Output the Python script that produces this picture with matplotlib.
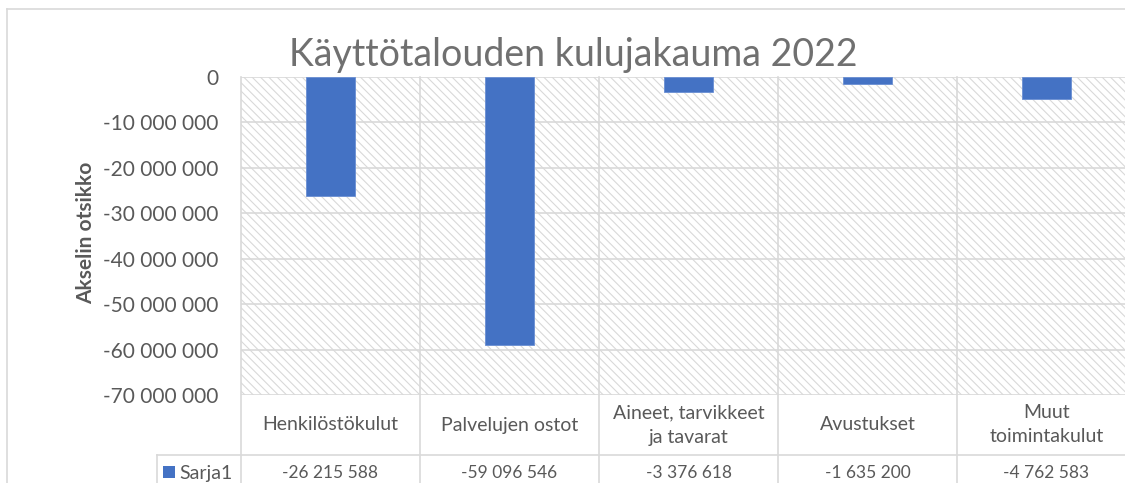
import matplotlib.pyplot as plt
import matplotlib.transforms as mtransforms
from matplotlib.lines import Line2D
from matplotlib.patches import Rectangle

# Chart data
categories = ['Henkilöstökulut', 'Palvelujen ostot', 'Aineet, tarvikkeet\nja tavarat',
              'Avustukset', 'Muut\ntoimintakulut']
values = [-26215588, -59096546, -3376618, -1635200, -4762583]
series_name = 'Sarja1'
yticks = [0, -10000000, -20000000, -30000000, -40000000, -50000000, -60000000, -70000000]

W, H = 1125, 483
BLUE = '#4472C4'
GRID = '#d9d9d9'
TXT = '#595959'

plt.rcParams['font.family'] = ['Lato', 'DejaVu Sans']
plt.rcParams['hatch.color'] = GRID
plt.rcParams['hatch.linewidth'] = 0.8


def fmt(v):
    return f'{v:,.0f}'.replace(',', ' ')


fig = plt.figure(figsize=(W / 100, H / 100), dpi=100)

# plot area in pixels: x 241..1136, y 77..395
ax = fig.add_axes([241 / W, (H - 395) / H, 895 / W, 318 / H])
ax.patch.set_hatch('\\' * 4)
ax.patch.set_edgecolor(GRID)
ax.patch.set_linewidth(0)

x = list(range(len(categories)))
ax.bar(x, values, width=0.27, color=BLUE, edgecolor='#6a8fd3', linewidth=0.6, zorder=3)

ax.set_xlim(-0.5, len(categories) - 0.5)
ax.set_ylim(min(yticks), max(yticks))
ax.set_yticks(yticks)
ax.set_yticklabels([fmt(v) for v in yticks], fontsize=15, color=TXT)
ax.tick_params(axis='y', length=0, pad=16)
ax.set_xticks([])
ax.set_axisbelow(True)
ax.grid(axis='y', color=GRID, linewidth=1.2, zorder=1)
for s in ax.spines.values():
    s.set_visible(False)

fx = lambda px: px / W
fy = lambda py: 1 - py / H
blend = mtransforms.blended_transform_factory(ax.transData, fig.transFigure)

# vertical category boundaries, through the plot area and the data table
for i in range(len(categories) + 1):
    xb = i - 0.5
    fig.add_artist(Line2D([xb, xb], [fy(77), fy(H)], transform=blend,
                          color=GRID, linewidth=1.2, zorder=2))

# table horizontal line between label row and value row
fig.add_artist(Line2D([fx(157), fx(W)], [fy(455), fy(455)], transform=fig.transFigure,
                      color=GRID, linewidth=1.2))
fig.add_artist(Line2D([fx(157), fx(157)], [fy(455), fy(H)], transform=fig.transFigure,
                      color=GRID, linewidth=1.2))

# outer chart border
fig.add_artist(Line2D([fx(7), fx(W)], [fy(9), fy(9)], transform=fig.transFigure,
                      color=GRID, linewidth=1.2))
fig.add_artist(Line2D([fx(7), fx(7)], [fy(9), fy(H)], transform=fig.transFigure,
                      color=GRID, linewidth=1.2))

# category labels and values in the data table
for i, (c, v) in enumerate(zip(categories, values)):
    fig.text(i, fy(425), c, transform=blend, ha='center', va='center',
             fontsize=14, color=TXT, linespacing=1.5)
    fig.text(i, fy(473), fmt(v), transform=blend, ha='center', va='center',
             fontsize=12.5, color=TXT)

# legend key
fig.add_artist(Rectangle((fx(163), fy(478)), 12 / W, 12 / H, transform=fig.transFigure,
                         facecolor=BLUE, edgecolor='none'))
fig.text(fx(179), fy(473), series_name, ha='left', va='center', fontsize=14, color=TXT)

# titles
fig.text(fx(573), fy(55), 'Käyttötalouden kulujakauma 2022', ha='center', va='center',
         fontsize=27, color='#707070')
fig.text(fx(86), fy(233), 'Akselin otsikko', ha='center', va='center', rotation=90,
         fontsize=15, fontweight='bold', color=TXT)

fig.savefig('out.png', dpi=100)
